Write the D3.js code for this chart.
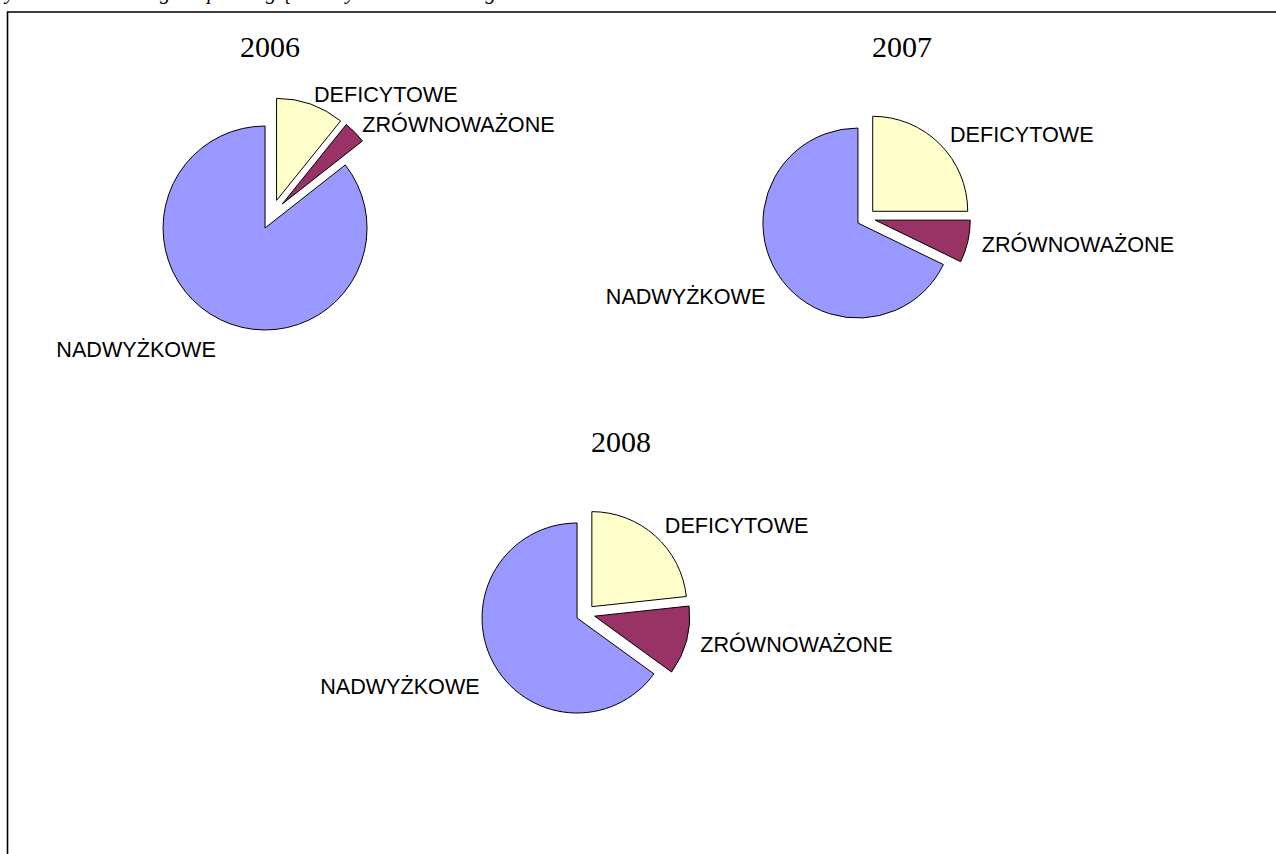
<!DOCTYPE html>
<html>
<head>
<meta charset="utf-8">
<script src="https://cdn.jsdelivr.net/npm/d3@7"></script>
<style>
  body { margin: 0; background: #fff; }
  svg { display: block; }
</style>
</head>
<body>
<svg id="chart" width="1276" height="854"></svg>
<script>
// data (percent of units)
const years = ["2006", "2007", "2008"];
const categories = ["DEFICYTOWE", "ZRÓWNOWAŻONE", "NADWYŻKOWE"];
const shares2006 = [10.8, 3.6, 85.6];
const shares2007 = [25.0, 7.2, 67.8];
const shares2008 = [23.3, 11.7, 65.0];
const sliceColors = ["#FFFFCC", "#993366", "#9999FF"];

const caption = "Wykres 5. Struktura gmin pod względem wyniku budżetowego w latach 2006-2008";

// layout of the three pies
const pieLayout = [
  { cx: 271.6, cy: 214.5, r: 102, explode: 15, tx: 270, ty: 57, leftDy: "1.3em" },
  { cx: 866, cy: 218, r: 95, explode: 9.5, tx: 902, ty: 57, leftDy: "1.05em" },
  { cx: 585.5, cy: 613.7, r: 95, explode: 9.5, tx: 621, ty: 452, leftDy: "1.2em" }
];

let svg = d3.select("#chart");

// caption above the frame, clipped by the page top (only descenders show)
svg.append("text")
  .attr("x", -10)
  .attr("y", -1.5)
  .text(caption)
  .style("font-family", "Liberation Serif")
  .style("font-style", "italic")
  .style("font-size", "21px")
  .style("fill", "#000");

// frame
svg.append("path")
  .attr("d", "M 7.5 860 L 7.5 12 L 1290 12")
  .style("fill", "none")
  .style("stroke", "#000")
  .style("stroke-width", 1.6);

let allShares = [shares2006, shares2007, shares2008];

allShares.forEach(function(shares, i) {
  let lay = pieLayout[i];
  let data = categories.map(function(c, j) {
    return { key: c, value: shares[j], color: sliceColors[j] };
  });
  drawPie(svg, data, lay, years[i]);
});

function drawPie(svg, data, lay, year) {
  let pie = d3.pie()
    .value(function(d) { return d.value; })
    .sort(null);

  let arc = d3.arc()
    .innerRadius(0)
    .outerRadius(lay.r);

  let g = svg.append("g")
    .attr("transform", "translate(" + lay.cx + "," + lay.cy + ")");

  let slices = pie(data);

  g.selectAll("path.slice")
    .data(slices)
    .enter().append("path")
    .attr("class", "slice")
    .attr("d", arc)
    .attr("transform", function(d) {
      let a = midAngle(d);
      return "translate(" + (lay.explode * Math.sin(a)) + "," + (-lay.explode * Math.cos(a)) + ")";
    })
    .style("fill", function(d) { return d.data.color; })
    .style("stroke", "#000")
    .style("stroke-width", 1)
    .style("stroke-linejoin", "round");

  // labels outside the slices
  let labelR = lay.r * 1.25;
  g.selectAll("text.label")
    .data(slices)
    .enter().append("text")
    .attr("class", "label")
    .attr("x", function(d) { return labelR * Math.sin(midAngle(d)); })
    .attr("y", function(d) { return -labelR * Math.cos(midAngle(d)); })
    .attr("dy", function(d) { return midAngle(d) < Math.PI ? "0.35em" : lay.leftDy; })
    .style("text-anchor", function(d) { return midAngle(d) < Math.PI ? "start" : "end"; })
    .text(function(d) { return d.data.key; })
    .style("font-family", "Liberation Sans")
    .style("font-size", "21.6px")
    .style("fill", "#000");

  // year title
  svg.append("text")
    .attr("x", lay.tx)
    .attr("y", lay.ty)
    .text(year)
    .style("text-anchor", "middle")
    .style("font-family", "Liberation Serif")
    .style("font-size", "30px")
    .style("fill", "#000");
}

function midAngle(d) { return d.startAngle + (d.endAngle - d.startAngle) / 2; }
</script>
</body>
</html>
